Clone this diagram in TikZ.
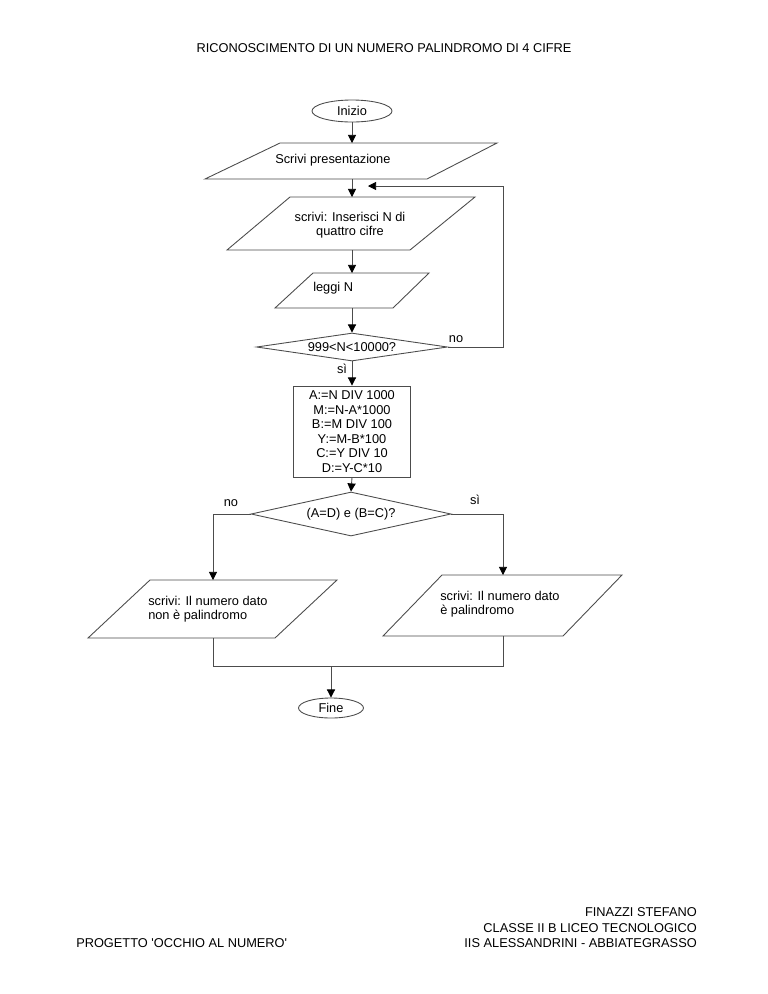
\documentclass[tikz,border=0pt]{standalone}
\usepackage{fontspec}
\setmainfont{Liberation Sans}
\usetikzlibrary{shapes.geometric,arrows.meta}
\begin{document}
\begin{tikzpicture}[x=0.797pt,y=-0.797pt,
  ln/.style={draw=black!70, line width=0.7pt},
  arr/.style={ln, -{Triangle[length=6.5pt,width=6.5pt,color=black]}},
  txt/.style={font=\fontsize{10.2}{11.6}\selectfont, inner sep=0pt},
  term/.style={ln, ellipse, txt},
  dec/.style={ln, diamond, txt},
  shp/.style={ln, fill=white}]
\useasboundingbox (0,0) rectangle (768,994);
% title
\node[txt] (title) at (384,48) {RICONOSCIMENTO DI UN NUMERO PALINDROMO DI 4 CIFRE};
% start
\node[term, minimum width={80*0.797pt}, minimum height={22*0.797pt}] (inizio) at (352,111) {Inizio};
% parallelogram 1
\draw[shp] (280,143) -- (497,143) -- (427,179) -- (205,179) -- cycle;
\coordinate (p1t) at (352,143); \coordinate (p1b) at (352,179);
\node[txt, anchor=west] (p1txt) at (275,160) {Scrivi presentazione};
% parallelogram 2
\draw[shp] (290,197) -- (475,197) -- (410,250) -- (227,250) -- cycle;
\coordinate (p2t) at (352,197); \coordinate (p2b) at (352,250);
\node[txt, align=center] (p2txt) at (350,225) {scrivi: Inserisci N di\\quattro cifre};
% parallelogram 3
\draw[shp] (313,273) -- (429,273) -- (393,308) -- (275,308) -- cycle;
\coordinate (p3t) at (352,273); \coordinate (p3b) at (352,308);
\node[txt, anchor=west] (p3txt) at (313,288) {leggi N};
% decision 1
\node[dec, aspect=6.8, minimum width={191*0.797pt}, minimum height={28*0.797pt}] (d1) at (352,347) {999<N<10000?};
% process box
\node[ln, rectangle, txt, align=center, minimum width={117*0.797pt}, minimum height={91*0.797pt}] (proc) at (352,431.5)
  {A:=N DIV 1000\\M:=N-A*1000\\B:=M DIV 100\\Y:=M-B*100\\C:=Y DIV 10\\D:=Y-C*10};
% decision 2
\node[dec, aspect=4.5, minimum width={200*0.797pt}, minimum height={44*0.797pt}] (d2) at (351,514) {\raisebox{2pt}{(A=D) e (B=C)?}};
% parallelogram 4 (left)
\draw[shp] (150,580) -- (337,580) -- (275,638) -- (88,638) -- cycle;
\coordinate (p4t) at (213,580); \coordinate (p4b) at (213,638);
\node[txt, anchor=west, align=left] (p4txt) at (148,609) {scrivi: Il numero dato\\non è palindromo};
% parallelogram 5 (right)
\draw[shp] (442,575) -- (622,575) -- (563,636) -- (383,636) -- cycle;
\coordinate (p5t) at (503,575); \coordinate (p5b) at (503,636);
\node[txt, anchor=west, align=left] (p5txt) at (440,604) {scrivi: Il numero dato\\è palindromo};
% end
\node[term, minimum width={65*0.797pt}, minimum height={20*0.797pt}] (fine) at (331,708) {Fine};
% coordinates
\coordinate (fb) at (368,186); \coordinate (fbr) at (503,186);
\coordinate (jl) at (213,666); \coordinate (jr) at (503,666); \coordinate (jm) at (331,666);
% connectors
\draw[arr] (inizio.south) -- (p1t);
\draw[arr] (p1b) -- (p2t);
\draw[arr] (p2b) -- (p3t);
\draw[arr] (p3b) -- (d1.north);
\draw[arr] (d1.east) -| (fbr) -- (fb);
\draw[arr] (d1.south) -- (proc.north);
\draw[arr] (proc.south) -- (d2.north);
\draw[arr] (d2.west) -| (p4t);
\draw[arr] (d2.east) -| (p5t);
\draw[ln] (p4b) -- (jl) -- (jr) -- (p5b);
\draw[arr] (jm) -- (fine.north);
% labels
\node[txt] (l1) at (456,339) {no};
\node[txt] (l2) at (342,369) {sì};
\node[txt] (l3) at (231,503) {no};
\node[txt] (l4) at (475,500) {sì};
% footer
\node[txt, anchor=west] (f1) at (76,943) {PROGETTO \textquotesingle OCCHIO AL NUMERO\textquotesingle};
\node[txt, anchor=east] (f2) at (697,912) {FINAZZI STEFANO};
\node[txt, anchor=east] (f3) at (697,928) {CLASSE II B LICEO TECNOLOGICO};
\node[txt, anchor=east] (f4) at (697,943) {IIS ALESSANDRINI - ABBIATEGRASSO};
\end{tikzpicture}
\end{document}
